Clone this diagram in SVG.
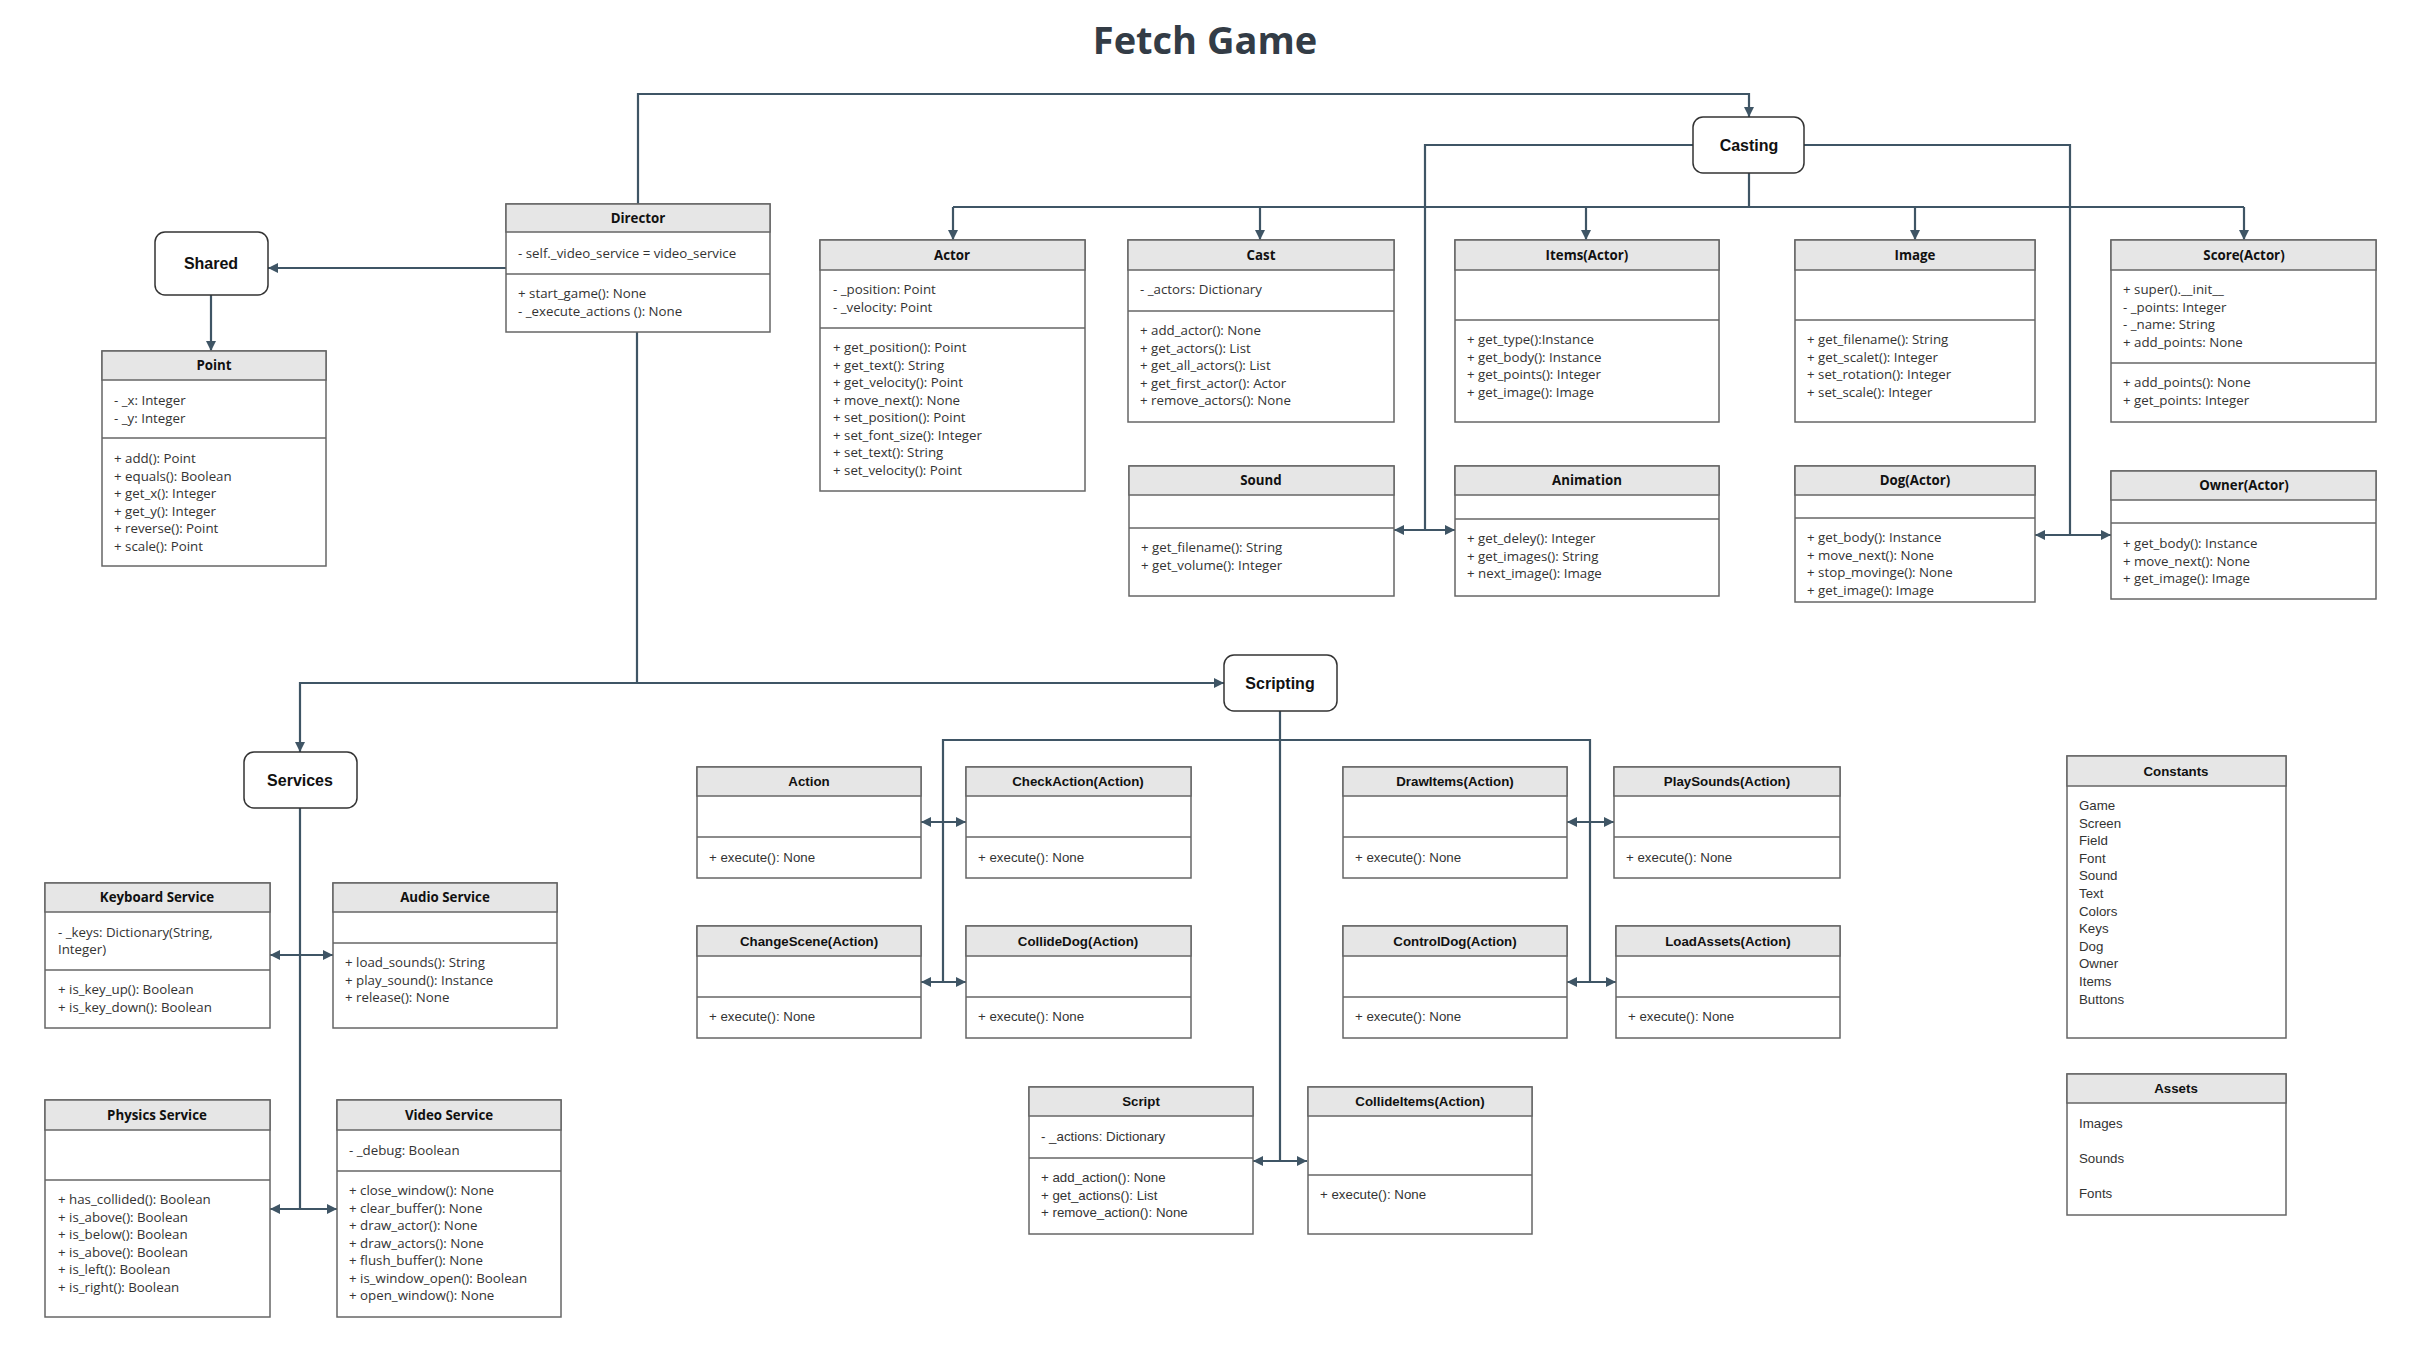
<svg xmlns="http://www.w3.org/2000/svg" width="2430" height="1359" viewBox="0 0 2430 1359">
<style>
.bx{fill:#fff;stroke:#666;stroke-width:1.5}
.hd{fill:#e6e6e6;stroke:#666;stroke-width:1.5}
.dv{stroke:#666;stroke-width:1.5}
.t{font-family:"Open Sans","Liberation Sans",sans-serif;font-size:13.3px;fill:#333}
.h{font-family:"Open Sans","Liberation Sans",sans-serif;font-size:13.3px;font-weight:bold;fill:#111;text-anchor:middle}
.ta{font-family:"Liberation Sans",Arial,sans-serif;font-size:13.3px;fill:#333}
.ha{font-family:"Liberation Sans",Arial,sans-serif;font-size:13.3px;font-weight:bold;fill:#111;text-anchor:middle}
.nd{fill:#fff;stroke:#333;stroke-width:1.5}
.nt{font-family:"Liberation Sans",Arial,sans-serif;font-size:16px;font-weight:bold;fill:#111;text-anchor:middle}
.c{fill:none;stroke:#3f5565;stroke-width:2.2}
.a{marker-end:url(#ah)}
.b{marker-start:url(#ah);marker-end:url(#ah)}
</style>
<defs>
<marker id="ah" markerUnits="userSpaceOnUse" markerWidth="10" markerHeight="10" refX="10" refY="5" orient="auto-start-reverse"><path d="M0,0 L10,5 L0,10 z" fill="#3f5565"/></marker>
</defs>
<rect width="2430" height="1359" fill="#fff"/>
<text x="1205" y="54" style="font-family:'Open Sans','Liberation Sans',sans-serif;font-size:38px;font-weight:bold;fill:#333c46" text-anchor="middle">Fetch Game</text>

<g id="connectors">
<path class="c a" d="M638,204 V94 H1749 V117"/>
<path class="c a" d="M506,268 H268"/>
<path class="c a" d="M211,295 V351"/>
<path class="c a" d="M637,332 V683 H1224"/>
<path class="c a" d="M637,683 H300 V752"/>
<path class="c" d="M1749,173 V207 M953,207 H2244"/>
<path class="c a" d="M953,207 V240"/>
<path class="c a" d="M1260,207 V240"/>
<path class="c a" d="M1586,207 V240"/>
<path class="c a" d="M1915,207 V240"/>
<path class="c a" d="M2244,207 V240"/>
<path class="c" d="M1693,145 H1425 V530"/>
<path class="c b" d="M1394,530 H1455"/>
<path class="c" d="M1804,145 H2070 V535"/>
<path class="c b" d="M2035,535 H2111"/>
<path class="c" d="M300,808 V1209"/>
<path class="c b" d="M270,955 H333"/>
<path class="c b" d="M270,1209 H337"/>
<path class="c" d="M1280,711 V1161"/>
<path class="c b" d="M1253,1161 H1307"/>
<path class="c" d="M943,982 V740 H1590 V982"/>
<path class="c b" d="M921,822 H966"/>
<path class="c b" d="M921,982 H966"/>
<path class="c b" d="M1567,822 H1614"/>
<path class="c b" d="M1567,982 H1616"/>
</g>

<g id="shared"><rect class="nd" x="155" y="232" width="113" height="63" rx="10"/><text class="nt" x="211" y="269">Shared</text></g>
<g id="casting"><rect class="nd" x="1693" y="117" width="111" height="56" rx="10"/><text class="nt" x="1749" y="151">Casting</text></g>
<g id="services"><rect class="nd" x="244" y="752" width="113" height="56" rx="10"/><text class="nt" x="300" y="786">Services</text></g>
<g id="scripting"><rect class="nd" x="1224" y="655" width="113" height="56" rx="10"/><text class="nt" x="1280" y="689">Scripting</text></g>

<g id="director">
<rect class="bx" x="506" y="204" width="264" height="128"/><rect class="hd" x="506" y="204" width="264" height="28"/><line class="dv" x1="506" y1="274" x2="770" y2="274"/>
<text class="h" x="638" y="223">Director</text>
<text class="t" x="518" y="258">- self._video_service = video_service</text>
<text class="t" x="518" y="298">+ start_game(): None</text>
<text class="t" x="518" y="316">- _execute_actions (): None</text>
</g>

<g id="point">
<rect class="bx" x="102" y="351" width="224" height="215"/><rect class="hd" x="102" y="351" width="224" height="29"/><line class="dv" x1="102" y1="438" x2="326" y2="438"/>
<text class="h" x="214" y="370">Point</text>
<text class="t" x="114" y="405">- _x: Integer</text>
<text class="t" x="114" y="423">- _y: Integer</text>
<text class="t" x="114" y="463">+ add(): Point</text>
<text class="t" x="114" y="481">+ equals(): Boolean</text>
<text class="t" x="114" y="498">+ get_x(): Integer</text>
<text class="t" x="114" y="516">+ get_y(): Integer</text>
<text class="t" x="114" y="533">+ reverse(): Point</text>
<text class="t" x="114" y="551">+ scale(): Point</text>
</g>

<g id="actor">
<rect class="bx" x="820" y="240" width="265" height="251"/><rect class="hd" x="820" y="240" width="265" height="30"/><line class="dv" x1="820" y1="328" x2="1085" y2="328"/>
<text class="h" x="952" y="260">Actor</text>
<text class="t" x="833" y="294">- _position: Point</text>
<text class="t" x="833" y="312">- _velocity: Point</text>
<text class="t" x="833" y="352">+ get_position(): Point</text>
<text class="t" x="833" y="369.5">+ get_text(): String</text>
<text class="t" x="833" y="387">+ get_velocity(): Point</text>
<text class="t" x="833" y="404.5">+ move_next(): None</text>
<text class="t" x="833" y="422">+ set_position(): Point</text>
<text class="t" x="833" y="439.5">+ set_font_size(): Integer</text>
<text class="t" x="833" y="457">+ set_text(): String</text>
<text class="t" x="833" y="474.5">+ set_velocity(): Point</text>
</g>

<g id="cast">
<rect class="bx" x="1128" y="240" width="266" height="182"/><rect class="hd" x="1128" y="240" width="266" height="30"/><line class="dv" x1="1128" y1="311" x2="1394" y2="311"/>
<text class="h" x="1261" y="260">Cast</text>
<text class="t" x="1140" y="294">- _actors: Dictionary</text>
<text class="t" x="1140" y="335">+ add_actor(): None</text>
<text class="t" x="1140" y="352.5">+ get_actors(): List</text>
<text class="t" x="1140" y="370">+ get_all_actors(): List</text>
<text class="t" x="1140" y="387.5">+ get_first_actor(): Actor</text>
<text class="t" x="1140" y="405">+ remove_actors(): None</text>
</g>

<g id="sound">
<rect class="bx" x="1129" y="466" width="265" height="130"/><rect class="hd" x="1129" y="466" width="265" height="29"/><line class="dv" x1="1129" y1="528" x2="1394" y2="528"/>
<text class="h" x="1261" y="485">Sound</text>
<text class="t" x="1141" y="552">+ get_filename(): String</text>
<text class="t" x="1141" y="570">+ get_volume(): Integer</text>
</g>

<g id="items">
<rect class="bx" x="1455" y="240" width="264" height="182"/><rect class="hd" x="1455" y="240" width="264" height="30"/><line class="dv" x1="1455" y1="320" x2="1719" y2="320"/>
<text class="h" x="1587" y="260">Items(Actor)</text>
<text class="t" x="1467" y="344">+ get_type():Instance</text>
<text class="t" x="1467" y="361.5">+ get_body(): Instance</text>
<text class="t" x="1467" y="379">+ get_points(): Integer</text>
<text class="t" x="1467" y="396.5">+ get_image(): Image</text>
</g>

<g id="animation">
<rect class="bx" x="1455" y="466" width="264" height="130"/><rect class="hd" x="1455" y="466" width="264" height="29"/><line class="dv" x1="1455" y1="519" x2="1719" y2="519"/>
<text class="h" x="1587" y="485">Animation</text>
<text class="t" x="1467" y="543">+ get_deley(): Integer</text>
<text class="t" x="1467" y="560.5">+ get_images(): String</text>
<text class="t" x="1467" y="578">+ next_image(): Image</text>
</g>

<g id="image">
<rect class="bx" x="1795" y="240" width="240" height="182"/><rect class="hd" x="1795" y="240" width="240" height="30"/><line class="dv" x1="1795" y1="320" x2="2035" y2="320"/>
<text class="h" x="1915" y="260">Image</text>
<text class="t" x="1807" y="344">+ get_filename(): String</text>
<text class="t" x="1807" y="361.5">+ get_scalet(): Integer</text>
<text class="t" x="1807" y="379">+ set_rotation(): Integer</text>
<text class="t" x="1807" y="396.5">+ set_scale(): Integer</text>
</g>

<g id="score">
<rect class="bx" x="2111" y="240" width="265" height="182"/><rect class="hd" x="2111" y="240" width="265" height="30"/><line class="dv" x1="2111" y1="363" x2="2376" y2="363"/>
<text class="h" x="2244" y="260">Score(Actor)</text>
<text class="t" x="2123" y="294">+ super().__init__</text>
<text class="t" x="2123" y="311.5">- _points: Integer</text>
<text class="t" x="2123" y="329">- _name: String</text>
<text class="t" x="2123" y="346.5">+ add_points: None</text>
<text class="t" x="2123" y="387">+ add_points(): None</text>
<text class="t" x="2123" y="404.5">+ get_points: Integer</text>
</g>

<g id="dog">
<rect class="bx" x="1795" y="466" width="240" height="136"/><rect class="hd" x="1795" y="466" width="240" height="29"/><line class="dv" x1="1795" y1="518" x2="2035" y2="518"/>
<text class="h" x="1915" y="485">Dog(Actor)</text>
<text class="t" x="1807" y="542">+ get_body(): Instance</text>
<text class="t" x="1807" y="559.5">+ move_next(): None</text>
<text class="t" x="1807" y="577">+ stop_movinge(): None</text>
<text class="t" x="1807" y="594.5">+ get_image(): Image</text>
</g>

<g id="owner">
<rect class="bx" x="2111" y="471" width="265" height="128"/><rect class="hd" x="2111" y="471" width="265" height="29"/><line class="dv" x1="2111" y1="523" x2="2376" y2="523"/>
<text class="h" x="2244" y="490">Owner(Actor)</text>
<text class="t" x="2123" y="548">+ get_body(): Instance</text>
<text class="t" x="2123" y="565.5">+ move_next(): None</text>
<text class="t" x="2123" y="583">+ get_image(): Image</text>
</g>

<g id="keyboard-service">
<rect class="bx" x="45" y="883" width="225" height="145"/><rect class="hd" x="45" y="883" width="225" height="29"/><line class="dv" x1="45" y1="970" x2="270" y2="970"/>
<text class="h" x="157" y="902">Keyboard Service</text>
<text class="t" x="58" y="937">- _keys: Dictionary(String,</text>
<text class="t" x="58" y="954">Integer)</text>
<text class="t" x="58" y="994">+ is_key_up(): Boolean</text>
<text class="t" x="58" y="1012">+ is_key_down(): Boolean</text>
</g>

<g id="audio-service">
<rect class="bx" x="333" y="883" width="224" height="145"/><rect class="hd" x="333" y="883" width="224" height="29"/><line class="dv" x1="333" y1="943" x2="557" y2="943"/>
<text class="h" x="445" y="902">Audio Service</text>
<text class="t" x="345" y="967">+ load_sounds(): String</text>
<text class="t" x="345" y="985">+ play_sound(): Instance</text>
<text class="t" x="345" y="1002">+ release(): None</text>
</g>

<g id="physics-service">
<rect class="bx" x="45" y="1100" width="225" height="217"/><rect class="hd" x="45" y="1100" width="225" height="30"/><line class="dv" x1="45" y1="1180" x2="270" y2="1180"/>
<text class="h" x="157" y="1120">Physics Service</text>
<text class="t" x="58" y="1204">+ has_collided(): Boolean</text>
<text class="t" x="58" y="1221.6">+ is_above(): Boolean</text>
<text class="t" x="58" y="1239.2">+ is_below(): Boolean</text>
<text class="t" x="58" y="1256.8">+ is_above(): Boolean</text>
<text class="t" x="58" y="1274.4">+ is_left(): Boolean</text>
<text class="t" x="58" y="1292">+ is_right(): Boolean</text>
</g>

<g id="video-service">
<rect class="bx" x="337" y="1100" width="224" height="217"/><rect class="hd" x="337" y="1100" width="224" height="30"/><line class="dv" x1="337" y1="1171" x2="561" y2="1171"/>
<text class="h" x="449" y="1120">Video Service</text>
<text class="t" x="349" y="1155">- _debug: Boolean</text>
<text class="t" x="349" y="1195">+ close_window(): None</text>
<text class="t" x="349" y="1212.5">+ clear_buffer(): None</text>
<text class="t" x="349" y="1230">+ draw_actor(): None</text>
<text class="t" x="349" y="1247.5">+ draw_actors(): None</text>
<text class="t" x="349" y="1265">+ flush_buffer(): None</text>
<text class="t" x="349" y="1282.5">+ is_window_open(): Boolean</text>
<text class="t" x="349" y="1300">+ open_window(): None</text>
</g>

<g id="action">
<rect class="bx" x="697" y="767" width="224" height="111"/><rect class="hd" x="697" y="767" width="224" height="29"/><line class="dv" x1="697" y1="837" x2="921" y2="837"/>
<text class="ha" x="809" y="786">Action</text>
<text class="ta" x="709" y="862">+ execute(): None</text>
</g>
<g id="check-action">
<rect class="bx" x="966" y="767" width="225" height="111"/><rect class="hd" x="966" y="767" width="225" height="29"/><line class="dv" x1="966" y1="837" x2="1191" y2="837"/>
<text class="ha" x="1078" y="786">CheckAction(Action)</text>
<text class="ta" x="978" y="862">+ execute(): None</text>
</g>
<g id="change-scene">
<rect class="bx" x="697" y="926" width="224" height="112"/><rect class="hd" x="697" y="926" width="224" height="30"/><line class="dv" x1="697" y1="997" x2="921" y2="997"/>
<text class="ha" x="809" y="946">ChangeScene(Action)</text>
<text class="ta" x="709" y="1021">+ execute(): None</text>
</g>
<g id="collide-dog">
<rect class="bx" x="966" y="926" width="225" height="112"/><rect class="hd" x="966" y="926" width="225" height="30"/><line class="dv" x1="966" y1="997" x2="1191" y2="997"/>
<text class="ha" x="1078" y="946">CollideDog(Action)</text>
<text class="ta" x="978" y="1021">+ execute(): None</text>
</g>
<g id="draw-items">
<rect class="bx" x="1343" y="767" width="224" height="111"/><rect class="hd" x="1343" y="767" width="224" height="29"/><line class="dv" x1="1343" y1="837" x2="1567" y2="837"/>
<text class="ha" x="1455" y="786">DrawItems(Action)</text>
<text class="ta" x="1355" y="862">+ execute(): None</text>
</g>
<g id="play-sounds">
<rect class="bx" x="1614" y="767" width="226" height="111"/><rect class="hd" x="1614" y="767" width="226" height="29"/><line class="dv" x1="1614" y1="837" x2="1840" y2="837"/>
<text class="ha" x="1727" y="786">PlaySounds(Action)</text>
<text class="ta" x="1626" y="862">+ execute(): None</text>
</g>
<g id="control-dog">
<rect class="bx" x="1343" y="926" width="224" height="112"/><rect class="hd" x="1343" y="926" width="224" height="30"/><line class="dv" x1="1343" y1="997" x2="1567" y2="997"/>
<text class="ha" x="1455" y="946">ControlDog(Action)</text>
<text class="ta" x="1355" y="1021">+ execute(): None</text>
</g>
<g id="load-assets">
<rect class="bx" x="1616" y="926" width="224" height="112"/><rect class="hd" x="1616" y="926" width="224" height="30"/><line class="dv" x1="1616" y1="997" x2="1840" y2="997"/>
<text class="ha" x="1728" y="946">LoadAssets(Action)</text>
<text class="ta" x="1628" y="1021">+ execute(): None</text>
</g>
<g id="script">
<rect class="bx" x="1029" y="1087" width="224" height="147"/><rect class="hd" x="1029" y="1087" width="224" height="29"/><line class="dv" x1="1029" y1="1158" x2="1253" y2="1158"/>
<text class="ha" x="1141" y="1106">Script</text>
<text class="ta" x="1041" y="1141">- _actions: Dictionary</text>
<text class="ta" x="1041" y="1182">+ add_action(): None</text>
<text class="ta" x="1041" y="1200">+ get_actions(): List</text>
<text class="ta" x="1041" y="1217">+ remove_action(): None</text>
</g>
<g id="collide-items">
<rect class="bx" x="1308" y="1087" width="224" height="147"/><rect class="hd" x="1308" y="1087" width="224" height="29"/><line class="dv" x1="1308" y1="1175" x2="1532" y2="1175"/>
<text class="ha" x="1420" y="1106">CollideItems(Action)</text>
<text class="ta" x="1320" y="1199">+ execute(): None</text>
</g>

<g id="constants">
<rect class="bx" x="2067" y="756" width="219" height="282"/><rect class="hd" x="2067" y="756" width="219" height="30"/>
<text class="ha" x="2176" y="776">Constants</text>
<text class="ta" x="2079" y="810">Game</text>
<text class="ta" x="2079" y="827.6">Screen</text>
<text class="ta" x="2079" y="845.2">Field</text>
<text class="ta" x="2079" y="862.8">Font</text>
<text class="ta" x="2079" y="880.4">Sound</text>
<text class="ta" x="2079" y="898">Text</text>
<text class="ta" x="2079" y="915.6">Colors</text>
<text class="ta" x="2079" y="933.2">Keys</text>
<text class="ta" x="2079" y="950.8">Dog</text>
<text class="ta" x="2079" y="968.4">Owner</text>
<text class="ta" x="2079" y="986">Items</text>
<text class="ta" x="2079" y="1003.6">Buttons</text>
</g>
<g id="assets">
<rect class="bx" x="2067" y="1074" width="219" height="141"/><rect class="hd" x="2067" y="1074" width="219" height="29"/>
<text class="ha" x="2176" y="1093">Assets</text>
<text class="ta" x="2079" y="1128">Images</text>
<text class="ta" x="2079" y="1163">Sounds</text>
<text class="ta" x="2079" y="1198">Fonts</text>
</g>
</svg>
